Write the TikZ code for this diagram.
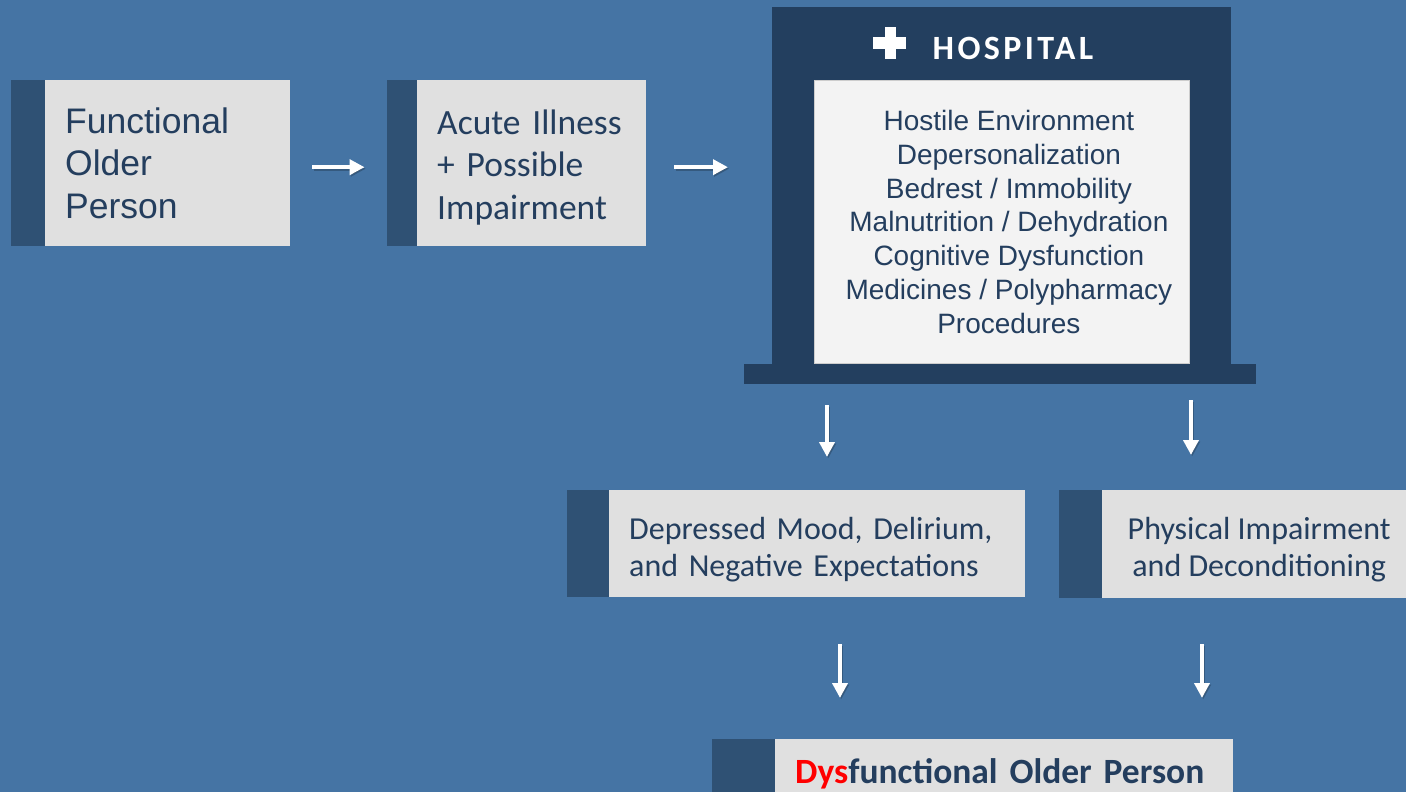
\documentclass[tikz,border=0pt]{standalone}
\usepackage{fontspec}
\setmainfont{Carlito}
\newfontfamily\arialf{Liberation Sans}
\usetikzlibrary{arrows.meta}
\definecolor{bgblue}{HTML}{4574A4}
\definecolor{stripecol}{HTML}{2F5174}
\definecolor{boxgray}{HTML}{E0E0E0}
\definecolor{hospdark}{HTML}{233F5F}
\definecolor{innergray}{HTML}{F3F3F3}
\definecolor{txtblue}{HTML}{243E5E}
\definecolor{dysred}{HTML}{FF0000}
\tikzset{
  lightbox/.style={fill=boxgray, draw=none, inner sep=0pt, anchor=north west},
  stripebox/.style={fill=stripecol, draw=none, inner sep=0pt, anchor=north east},
  boxtext/.style={inner sep=0pt, text=txtblue},
  arr/.style={draw=white, line width=4.5pt, -{Triangle[length=15pt,width=15pt]},
    preaction={draw=black, draw opacity=0.22, line width=4.5pt, transform canvas={shift={(1.2pt,-1.5pt)}}}},
}
\begin{document}
\begin{tikzpicture}[x=1pt,y=-1pt]
\useasboundingbox (0,0) rectangle (1406,792);
\clip (0,0) rectangle (1406,792);
\fill[bgblue] (0,0) rectangle (1406,792);

% Box 1
\node[lightbox, minimum width=245pt, minimum height=166pt] (f1) at (45,80) {};
\node[stripebox, minimum width=34pt, minimum height=166pt] (s1) at (f1.north west) {};
\node[boxtext, text width=205pt, align=left, font=\arialf\fontsize{35.5}{42.5}\selectfont]
  (f1t) at (f1.center) {Functional\\Older\\Person};

% Box 2
\node[lightbox, minimum width=229pt, minimum height=166pt] (b2) at (417,80) {};
\node[stripebox, minimum width=30pt, minimum height=166pt] (s2) at (b2.north west) {};
\node[boxtext, text width=189pt, align=left, font=\fontsize{35.5}{42.5}\selectfont]
  (b2t) at ([yshift=-4pt]b2.center) {Acute Illness\\+ Possible\\Impairment};

% Hospital
\node[fill=hospdark, inner sep=0pt, minimum width=459pt, minimum height=357pt, anchor=north west] (hf) at (772,7) {};
\node[fill=hospdark, inner sep=0pt, minimum width=512pt, minimum height=20pt, anchor=north west] (hb) at (744,364) {};
\fill[white] (885,27) rectangle (896,59);
\fill[white] (873,37) rectangle (906,49);
\node[text=white, inner sep=0pt, font=\bfseries\fontsize{34}{40}\selectfont\addfontfeatures{LetterSpace=10}] (ht) at (1013,48.5) {HOSPITAL};
\node[fill=innergray, draw={rgb,255:red,205;green,205;blue,205}, line width=0.8pt, inner sep=0pt,
  minimum width=375pt, minimum height=283pt, anchor=north west] (hosp) at (814,80) {};
\node[boxtext, align=center, font=\arialf\fontsize{28}{33.7}\selectfont] (hosptxt)
  at ([xshift=7pt]hosp.center)
  {Hostile Environment\\Depersonalization\\Bedrest / Immobility\\Malnutrition / Dehydration\\Cognitive Dysfunction\\Medicines / Polypharmacy\\Procedures};

% Depressed
\node[lightbox, minimum width=416pt, minimum height=107pt] (dep) at (609,490) {};
\node[stripebox, minimum width=42pt, minimum height=107pt] (sdep) at (dep.north west) {};
\node[boxtext, text width=376pt, align=left, font=\fontsize{32}{37}\selectfont]
  (dept) at ([yshift=-6pt]dep.center) {Depressed Mood, Delirium,\\and Negative Expectations};

% Physical
\node[lightbox, minimum width=314pt, minimum height=108pt] (phys) at (1102,490) {};
\node[stripebox, minimum width=43pt, minimum height=108pt] (sphys) at (phys.north west) {};
\node[boxtext, align=center, font=\fontsize{32}{37}\selectfont]
  (physt) at ([yshift=-5pt]phys.center) {Physical Impairment\\and Deconditioning};

% Dysfunctional
\node[lightbox, minimum width=458pt, minimum height=64pt] (dys) at (775,739) {};
\node[stripebox, minimum width=63pt, minimum height=64pt] (sdys) at (dys.north west) {};
\node[boxtext, text width=418pt, align=left, font=\bfseries\fontsize{35.5}{40}\selectfont]
  (dyst) at ([yshift=-3pt]dys.center) {\textcolor{dysred}{Dys}functional Older Person};

% Arrows
\coordinate (x3) at (827,0);
\coordinate (x4) at (1191,0);
\coordinate (x5) at (840,0);
\coordinate (x6) at (1202,0);
\draw[arr, shorten <=22pt, shorten >=22pt] ([yshift=-4pt]f1.east) -- ([yshift=-4pt]s2.west);
\draw[arr, shorten <=28pt, shorten >=44pt] ([yshift=-4pt]b2.east) -- ([yshift=-4pt]b2.east -| hf.west);
\draw[arr, shorten <=21pt, shorten >=33pt] (hb.south -| x3) -- (sdep.north -| x3);
\draw[arr, shorten <=16pt, shorten >=35pt] (hb.south -| x4) -- (phys.north -| x4);
\draw[arr, shorten <=47pt, shorten >=41pt] (dep.south -| x5) -- (dys.north -| x5);
\draw[arr, shorten <=46pt, shorten >=41pt] (phys.south -| x6) -- (dys.north -| x6);
\end{tikzpicture}
\end{document}
